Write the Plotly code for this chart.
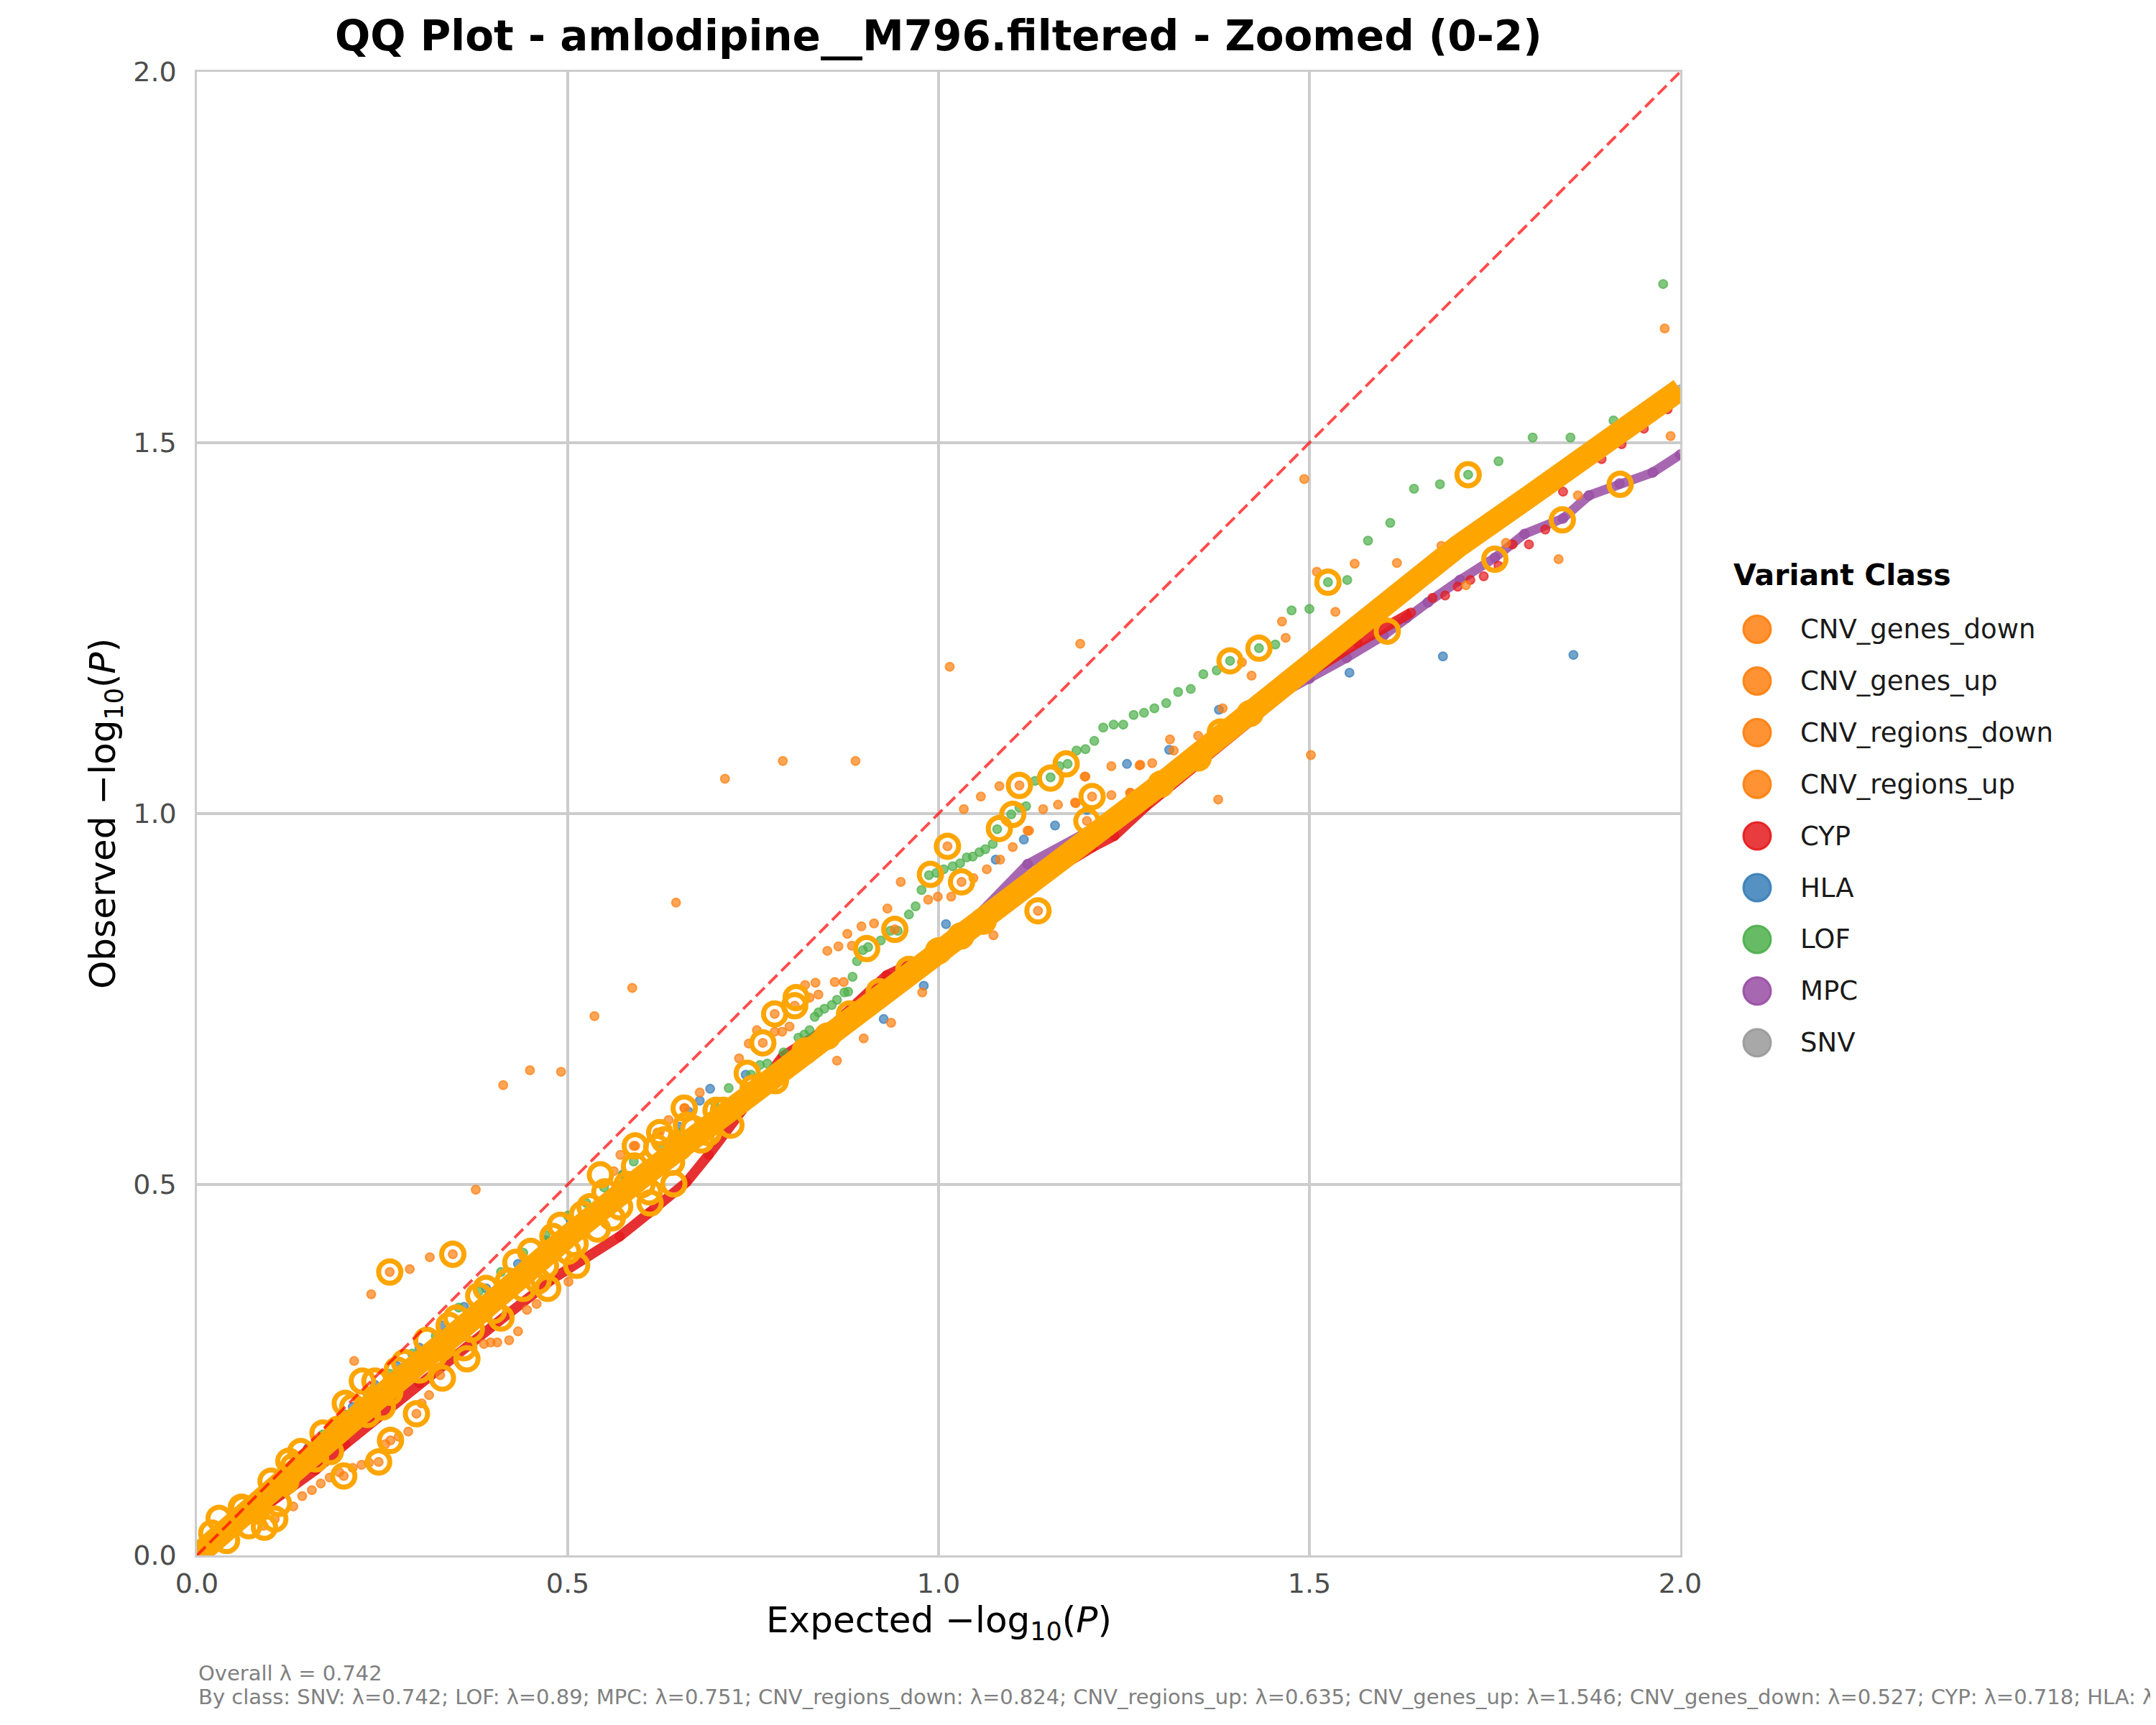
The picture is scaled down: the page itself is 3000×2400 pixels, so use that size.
import plotly.graph_objects as go

# ---------------- data ----------------
# dense highlighted band (orange rings merged into a solid band)
band_x = [0.0, 0.05, 0.1, 0.15, 0.2, 0.25, 0.3, 0.35, 0.4, 0.45, 0.5, 0.6, 0.7, 0.8, 0.9,
          1.0, 1.1, 1.2, 1.3, 1.4, 1.5, 1.6, 1.7, 1.8, 1.9, 2.0]
band_y = [0.0, 0.045, 0.09, 0.13, 0.175, 0.215, 0.26, 0.3, 0.345, 0.39, 0.43, 0.51, 0.585, 0.66, 0.735,
          0.81, 0.885, 0.96, 1.04, 1.12, 1.2, 1.28, 1.36, 1.43, 1.5, 1.572]

# SNV (bulk, hidden beneath the band)
snv_x = [0.0, 0.1, 0.2, 0.3, 0.4, 0.5, 0.6, 0.7, 0.8, 0.9, 1.0, 1.2, 1.4, 1.6, 1.8, 2.0]
snv_y = [0.0, 0.09, 0.175, 0.26, 0.345, 0.43, 0.51, 0.585, 0.66, 0.735, 0.81, 0.96, 1.12, 1.28, 1.43, 1.572]

# MPC
mpc_x = [0.05, 0.15, 0.25, 0.35, 0.45, 0.55, 0.65, 0.75, 0.85, 0.95, 1.05, 1.12, 1.2, 1.3, 1.4, 1.45,
         1.5, 1.55, 1.6, 1.631, 1.66, 1.703, 1.75, 1.79, 1.842, 1.877, 1.918, 1.963, 2.0]
mpc_y = [0.045, 0.13, 0.215, 0.295, 0.38, 0.46, 0.54, 0.62, 0.70, 0.775, 0.86, 0.932, 0.975, 1.05, 1.125, 1.155,
         1.182, 1.21, 1.24, 1.264, 1.285, 1.315, 1.345, 1.377, 1.398, 1.429, 1.445, 1.46, 1.484]

# CYP (dense run, then isolated points at the top)
cyp_dense_x = [0.0, 0.05, 0.1, 0.16, 0.2, 0.3, 0.4, 0.48, 0.57, 0.61, 0.66, 0.69, 0.75, 0.79, 0.86, 0.93,
               1.0, 1.1, 1.208, 1.237, 1.28, 1.4, 1.5, 1.565, 1.637]
cyp_dense_y = [0.0, 0.035, 0.072, 0.115, 0.15, 0.232, 0.31, 0.373, 0.43, 0.462, 0.503, 0.54, 0.62, 0.673, 0.717, 0.782,
               0.815, 0.89, 0.955, 0.97, 1.01, 1.11, 1.19, 1.23, 1.271]
cyp_sparse_x = [1.666, 1.683, 1.70, 1.717, 1.735, 1.755, 1.774, 1.796, 1.818, 1.842, 1.894, 1.921, 1.951, 1.983]
cyp_sparse_y = [1.291, 1.294, 1.306, 1.315, 1.32, 1.334, 1.363, 1.363, 1.383, 1.434, 1.478, 1.498, 1.519, 1.545]

# HLA
hla_x = [0.03, 0.06, 0.09, 0.12, 0.15, 0.18, 0.21, 0.24, 0.27, 0.3, 0.33, 0.36, 0.39, 0.433, 0.47, 0.504,
         0.575, 0.65, 0.663, 0.678, 0.692, 0.74, 0.926, 0.98, 1.01, 1.077, 1.115, 1.157, 1.200, 1.254,
         1.311, 1.378, 1.554, 1.680, 1.856]
hla_y = [0.03, 0.06, 0.085, 0.115, 0.145, 0.17, 0.2, 0.23, 0.255, 0.28, 0.31, 0.335, 0.36, 0.393, 0.425, 0.451,
         0.514, 0.578, 0.598, 0.613, 0.629, 0.648, 0.723, 0.768, 0.851, 0.938, 0.965, 0.984, 1.005, 1.067,
         1.086, 1.140, 1.190, 1.212, 1.214]

# LOF
lof_x = [0.02, 0.05, 0.08, 0.11, 0.14, 0.17, 0.2, 0.23, 0.26, 0.29, 0.322, 0.353, 0.38, 0.41, 0.44, 0.47,
         0.5, 0.525, 0.549, 0.574, 0.589, 0.628, 0.653, 0.698, 0.717, 0.747, 0.759, 0.769, 0.791, 0.811,
         0.819, 0.826, 0.833, 0.838, 0.846, 0.856, 0.863, 0.873, 0.878, 0.884, 0.890, 0.898, 0.905, 0.922,
         0.935, 0.945, 0.960, 0.969, 0.977, 0.987, 0.997, 1.007, 1.019, 1.029, 1.038, 1.046, 1.055, 1.063,
         1.073, 1.079, 1.098, 1.109, 1.118, 1.130, 1.151, 1.163, 1.174, 1.186, 1.198, 1.210, 1.222, 1.236,
         1.249, 1.263, 1.277, 1.291, 1.307, 1.323, 1.340, 1.357, 1.375, 1.393, 1.432, 1.454, 1.476, 1.500,
         1.525, 1.551, 1.579, 1.609, 1.641, 1.676, 1.714, 1.755, 1.801, 1.852, 1.910, 1.977]
lof_y = [0.02, 0.05, 0.078, 0.105, 0.135, 0.163, 0.19, 0.218, 0.245, 0.272, 0.296, 0.334, 0.356, 0.382, 0.408, 0.432,
         0.458, 0.475, 0.496, 0.513, 0.531, 0.552, 0.570, 0.611, 0.630, 0.648, 0.661, 0.663, 0.678, 0.698,
         0.702, 0.708, 0.726, 0.732, 0.737, 0.742, 0.749, 0.759, 0.760, 0.780, 0.801, 0.816, 0.820, 0.829,
         0.842, 0.842, 0.864, 0.875, 0.897, 0.917, 0.920, 0.925, 0.929, 0.933, 0.941, 0.942, 0.948, 0.952,
         0.959, 0.979, 0.999, 1.008, 1.010, 1.044, 1.049, 1.064, 1.067, 1.085, 1.087, 1.098, 1.116, 1.120,
         1.120, 1.133, 1.136, 1.142, 1.149, 1.164, 1.168, 1.188, 1.193, 1.206, 1.223, 1.228, 1.274, 1.276,
         1.312, 1.315, 1.368, 1.392, 1.438, 1.444, 1.457, 1.475, 1.507, 1.507, 1.530, 1.714]

# CNV classes (all four share one colour in the reference)
cnv_x = [1.979, 1.987, 1.493, 1.510, 1.535, 1.561, 1.618, 1.678, 1.686, 1.765, 1.862, 1.836, 1.711,
         1.614, 1.463, 1.468, 1.422, 1.409, 1.377, 1.383, 1.350, 1.312, 1.317, 1.288, 1.272, 1.233, 1.259,
         1.233, 1.198, 1.185, 1.161, 1.141, 1.120, 1.100, 1.082, 1.057, 1.034, 1.065, 1.047, 1.017, 0.999,
         1.502, 1.191, 1.015, 1.271, 1.258, 1.184, 1.197, 1.122, 1.083, 0.986, 0.949, 0.931, 0.913, 0.896,
         0.877, 0.865, 0.850, 0.883, 0.872, 0.860, 0.834, 0.820, 0.838, 0.826, 0.799, 0.789, 0.779, 0.755,
         0.744, 0.731, 1.074, 0.978, 0.936, 0.899, 0.863, 0.678, 0.658, 0.636, 0.621, 0.589, 0.571, 0.562,
         0.712, 0.790, 0.888, 0.646, 0.587, 0.536, 0.449, 0.491, 0.413, 0.376, 0.235, 0.212,
         0.314, 0.287, 0.433, 0.421, 0.405, 0.396, 0.387, 0.445, 0.458, 0.501, 0.285, 0.272, 0.254, 0.232,
         0.222, 0.210, 0.192, 0.179, 0.167, 0.155, 0.142, 0.130, 0.090, 0.313, 0.303, 0.328,
         0.260, 0.345, 0.296, 0.261, 0.245, 0.198, 0.105, 1.012, 1.031, 1.109, 1.207, 1.200, 1.134,
         0.941, 0.763, 0.779, 0.806, 0.657, 0.624, 0.591]
cnv_y = [1.654, 1.509, 1.451, 1.326, 1.272, 1.337, 1.338, 1.361, 1.350, 1.365, 1.429, 1.343, 1.308,
         1.296, 1.259, 1.237, 1.186, 1.204, 1.019, 1.142, 1.105, 1.100, 1.085, 1.068, 1.066, 1.064, 1.028,
         1.025, 1.050, 1.014, 1.012, 1.006, 0.977, 0.955, 1.037, 1.023, 1.006, 0.925, 0.913, 0.888, 0.888,
         1.079, 1.229, 1.198, 1.065, 1.028, 1.015, 1.050, 0.977, 0.938, 0.884, 0.908, 0.872, 0.852, 0.848,
         0.838, 0.821, 0.815, 0.822, 0.773, 0.773, 0.772, 0.769, 0.756, 0.752, 0.713, 0.706, 0.706, 0.708,
         0.690, 0.670, 0.836, 0.759, 0.718, 0.697, 0.667, 0.624, 0.603, 0.587, 0.570, 0.552, 0.540, 0.518,
         1.047, 1.071, 1.071, 0.880, 0.765, 0.727, 0.654, 0.652, 0.634, 0.493, 0.352, 0.262,
         0.402, 0.386, 0.302, 0.290, 0.287, 0.287, 0.285, 0.331, 0.339, 0.369, 0.167, 0.160, 0.150, 0.125,
         0.122, 0.118, 0.112, 0.105, 0.097, 0.088, 0.080, 0.066, 0.040, 0.216, 0.205, 0.243,
         0.382, 0.406, 0.191, 0.155, 0.126, 0.107, 0.049, 0.956, 0.908, 1.038, 1.023, 0.990, 0.869,
         0.844, 0.691, 0.730, 0.741, 0.603, 0.570, 0.552]

# highlighted points (orange rings)
ring_x = [0.02, 0.04, 0.06, 0.08, 0.1, 0.12, 0.14, 0.16, 0.17, 0.19, 0.21, 0.23, 0.24, 0.26, 0.28, 0.3,
          0.31, 0.33, 0.35, 0.37, 0.38, 0.4, 0.42, 0.44, 0.45, 0.47, 0.48, 0.5, 0.52, 0.54, 0.55, 0.57,
          0.59, 0.6, 0.62, 0.64, 0.66, 0.68, 0.7, 0.72, 0.75, 0.78, 0.82, 0.85, 0.88, 0.92, 0.96, 1.0,
          1.03, 1.06, 1.3, 1.35, 1.38, 1.42,
          0.03, 0.07, 0.11, 0.13, 0.18, 0.2, 0.25, 0.27, 0.32, 0.34, 0.36, 0.39, 0.41, 0.43, 0.46, 0.49,
          0.51, 0.53, 0.56, 0.58, 0.61, 0.63, 0.65, 0.67, 0.69, 0.71,
          0.260, 0.345, 0.296, 0.261, 0.245, 0.198, 0.105, 0.091, 0.473, 0.512, 0.364, 0.331, 0.062,
          0.124, 0.223, 0.544, 0.591, 0.624, 0.657, 0.742, 0.763, 0.779, 0.806, 0.808, 0.903, 0.941,
          0.989, 1.012, 1.031, 1.082, 1.100, 1.109, 1.151, 1.172, 1.200, 1.207, 1.134, 1.393, 1.432,
          1.525, 1.605, 1.714, 1.750, 1.841, 1.919, 0.643, 0.611]
ring_y = [0.03, 0.02, 0.065, 0.06, 0.1, 0.1, 0.14, 0.13, 0.165, 0.17, 0.2, 0.19, 0.235, 0.22, 0.26, 0.25,
          0.29, 0.28, 0.32, 0.305, 0.35, 0.33, 0.37, 0.36, 0.41, 0.39, 0.43, 0.41, 0.46, 0.44, 0.49, 0.47,
          0.525, 0.5, 0.55, 0.53, 0.58, 0.56, 0.6, 0.58, 0.63, 0.64, 0.68, 0.7, 0.73, 0.76, 0.79, 0.815,
          0.835, 0.855, 1.04, 1.075, 1.11, 1.135,
          0.05, 0.04, 0.07, 0.12, 0.14, 0.205, 0.2, 0.25, 0.27, 0.31, 0.28, 0.36, 0.32, 0.395, 0.37, 0.445,
          0.42, 0.47, 0.455, 0.5, 0.49, 0.56, 0.55, 0.575, 0.57, 0.6,
          0.382, 0.406, 0.191, 0.155, 0.126, 0.107, 0.049, 0.038, 0.360, 0.391, 0.265, 0.239, 0.064,
          0.127, 0.235, 0.513, 0.552, 0.570, 0.603, 0.650, 0.691, 0.730, 0.741, 0.752, 0.818, 0.844,
          0.918, 0.956, 0.908, 0.980, 0.999, 1.038, 1.048, 1.067, 0.990, 1.023, 0.869, 1.206, 1.223,
          1.312, 1.246, 1.457, 1.343, 1.396, 1.444, 0.501, 0.475]

diag_x = [0.0, 2.0]
diag_y = [0.0, 2.0]

legend_labels = ["CNV_genes_down", "CNV_genes_up", "CNV_regions_down", "CNV_regions_up",
                 "CYP", "HLA", "LOF", "MPC", "SNV"]
legend_colors = ["255,127,14", "255,127,14", "255,127,14", "255,127,14",
                 "228,26,28", "55,126,184", "77,175,74", "152,78,163", "153,153,153"]

tick_vals = [0.0, 0.5, 1.0, 1.5, 2.0]
tick_text = ["0.0", "0.5", "1.0", "1.5", "2.0"]

title_text = "QQ Plot - amlodipine__M796.filtered - Zoomed (0-2)"
footer1 = "Overall λ = 0.742"
footer2 = ("By class: SNV: λ=0.742; LOF: λ=0.89; MPC: λ=0.751; CNV_regions_down: λ=0.824; "
           "CNV_regions_up: λ=0.635; CNV_genes_up: λ=1.546; CNV_genes_down: λ=0.527; CYP: λ=0.718; HLA: λ=")

# ---------------- figure ----------------
FONT = "DejaVu Sans"
OFF = 8                      # page offset of the plot div
W, H = 3000 - OFF, 2400 - OFF
PW = PH = 2064               # plot area size
LEFT_REF, BOTTOM_REF = 274, 2164   # plot area left / bottom in page pixels
L = LEFT_REF - OFF
T = BOTTOM_REF - PH - OFF
R = W - L - PW
B = H - T - PH


def px(xp):   # page x pixel -> paper x
    return (xp - LEFT_REF) / PW


def py(yp):   # page y pixel -> paper y
    return (BOTTOM_REF - yp) / PH


def rgba(c, a):
    return "rgba(%s,%s)" % (c, a)


def dots(x, y, c, size=12, a=0.7):
    return go.Scatter(x=x, y=y, mode="markers", showlegend=False, hoverinfo="skip",
                      marker=dict(size=size, color=rgba(c, a), line=dict(width=2, color=rgba(c, a))))


fig = go.Figure()
fig.add_trace(dots(snv_x, snv_y, "153,153,153"))
fig.add_trace(go.Scatter(x=mpc_x, y=mpc_y, mode="lines+markers", showlegend=False, hoverinfo="skip",
                         line=dict(color=rgba("152,78,163", 0.85), width=13),
                         marker=dict(size=13, color=rgba("152,78,163", 0.7),
                                     line=dict(width=2, color=rgba("152,78,163", 0.7)))))
fig.add_trace(go.Scatter(x=cyp_dense_x, y=cyp_dense_y, mode="lines+markers", showlegend=False, hoverinfo="skip",
                         line=dict(color=rgba("228,26,28", 0.9), width=14),
                         marker=dict(size=12, color=rgba("228,26,28", 0.7),
                                     line=dict(width=2, color=rgba("228,26,28", 0.7)))))
fig.add_trace(dots(cyp_sparse_x, cyp_sparse_y, "228,26,28"))
fig.add_trace(dots(hla_x, hla_y, "55,126,184"))
fig.add_trace(dots(lof_x, lof_y, "77,175,74"))
fig.add_trace(dots(cnv_x, cnv_y, "255,127,14"))
fig.add_trace(go.Scatter(x=band_x, y=band_y, mode="lines", showlegend=False, hoverinfo="skip",
                         line=dict(color="#FFA500", width=32)))
fig.add_trace(go.Scatter(x=ring_x, y=ring_y, mode="markers", showlegend=False, hoverinfo="skip",
                         marker=dict(size=31, color="rgba(0,0,0,0)", line=dict(width=7, color="#FFA500"))))
fig.add_trace(go.Scatter(x=diag_x, y=diag_y, mode="lines", showlegend=False, hoverinfo="skip",
                         line=dict(color="rgba(255,0,0,0.7)", width=4, dash="17px,8px")))

axis_common = dict(range=[0, 2], tickvals=tick_vals, ticktext=tick_text, showgrid=True,
                   gridcolor="#cccccc", gridwidth=4, zeroline=False, showline=True,
                   linecolor="#cccccc", linewidth=2.5, mirror=True, ticks="",
                   tickfont=dict(family=FONT, size=38, color="#4d4d4d"))

fig.update_layout(
    width=W, height=H, margin=dict(l=L, r=R, t=T, b=B, pad=0),
    paper_bgcolor="white", plot_bgcolor="white", showlegend=False,
    font=dict(family=FONT, color="black"),
    xaxis=dict(**axis_common, ticklabelstandoff=4),
    yaxis=dict(**axis_common, ticklabelstandoff=18),
)

ann = []
ann.append(dict(text="<b>%s</b>" % title_text, x=0.5, y=py(50), xref="paper", yref="paper",
                xanchor="center", yanchor="middle", showarrow=False, font=dict(size=58, color="black")))
ann.append(dict(text="Expected −log<sub>10</sub>(<i>P</i>)", x=0.5, y=py(2257),
                xref="paper", yref="paper", xanchor="center", yanchor="middle", showarrow=False,
                font=dict(size=50, color="black")))
ann.append(dict(text="Observed −log<sub>10</sub>(<i>P</i>)", x=px(146), y=0.5, textangle=-90,
                xref="paper", yref="paper", xanchor="center", yanchor="middle", showarrow=False,
                font=dict(size=50, color="black")))
ann.append(dict(text=footer1, x=0, y=py(2328), xref="paper", yref="paper",
                xanchor="left", yanchor="middle", showarrow=False, font=dict(size=29, color="gray")))
ann.append(dict(text=footer2, x=0, y=py(2361), xref="paper", yref="paper",
                xanchor="left", yanchor="middle", showarrow=False, font=dict(size=29, color="gray")))
ann.append(dict(text="<b>Variant Class</b>", x=px(2410), y=py(800), xref="paper",
                yref="paper", xanchor="left", yanchor="middle", showarrow=False,
                font=dict(size=41, color="black")))

shapes = []
for i, (lab, col) in enumerate(zip(legend_labels, legend_colors)):
    yc = 875.5 + 71.9 * i
    shapes.append(dict(type="circle", xref="paper", yref="paper", xsizemode="pixel", ysizemode="pixel",
                       xanchor=px(2445), yanchor=py(yc), x0=-19, x1=19, y0=-19, y1=19,
                       fillcolor=rgba(col, 0.85), line=dict(color=rgba(col, 0.9), width=3)))
    ann.append(dict(text=lab, x=px(2503), y=py(yc), xref="paper", yref="paper", xanchor="left",
                    yanchor="middle", showarrow=False, font=dict(size=37, color="#1a1a1a")))

fig.update_layout(annotations=ann, shapes=shapes)
fig.write_html("out.html")
